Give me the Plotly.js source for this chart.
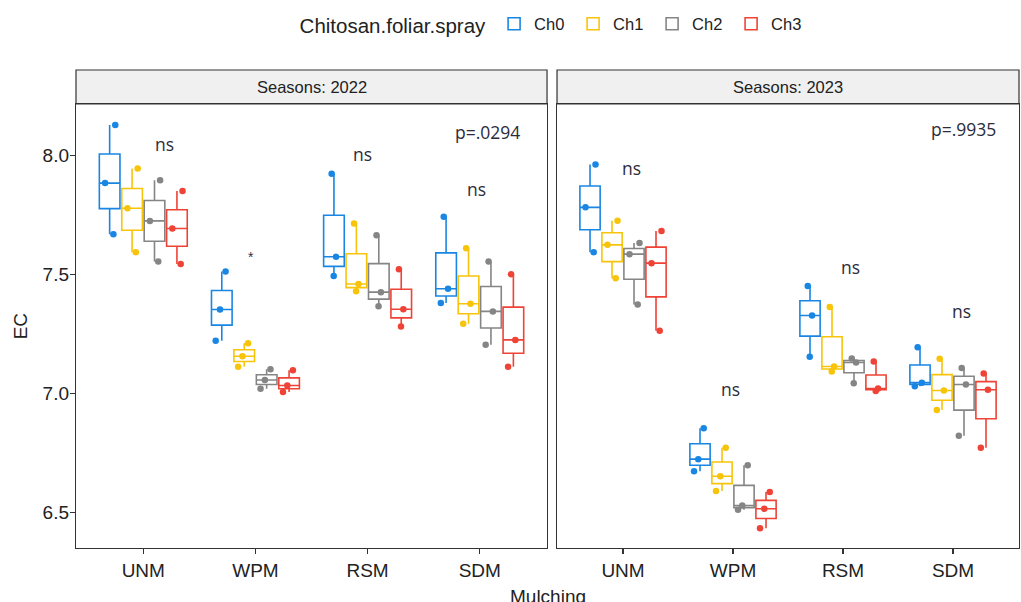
<!DOCTYPE html>
<html>
<head>
<meta charset="utf-8">
<script src="https://cdn.plot.ly/plotly-3.0.1.min.js"></script>
<style>html,body{margin:0;padding:0;background:#fff;}#chart{width:1021px;height:602px;}</style>
</head>
<body>
<div id="chart"></div>
<script>
// Categories
const mulching = ['UNM', 'WPM', 'RSM', 'SDM'];
const chitosan = ['Ch0', 'Ch1', 'Ch2', 'Ch3'];
const seasons = ['2022', '2023'];

// EC values (3 replicates per Mulching) — Season 2022
const ch0_2022 = [[8.13, 7.885, 7.67], [7.513, 7.353, 7.221], [7.924, 7.575, 7.494], [7.743, 7.44, 7.38]];
const ch1_2022 = [[7.946, 7.779, 7.594], [7.211, 7.156, 7.112], [7.715, 7.46, 7.43], [7.611, 7.377, 7.293]];
const ch2_2022 = [[7.897, 7.726, 7.555], [7.101, 7.056, 7.019], [7.666, 7.426, 7.367], [7.555, 7.345, 7.205]];
const ch3_2022 = [[7.852, 7.694, 7.545], [7.097, 7.033, 7.006], [7.522, 7.354, 7.281], [7.501, 7.225, 7.112]];

// EC values — Season 2023
const ch0_2023 = [[7.963, 7.783, 7.594], [6.853, 6.723, 6.672], [7.452, 7.328, 7.154], [7.194, 7.045, 7.03]];
const ch1_2023 = [[7.727, 7.625, 7.484], [6.771, 6.651, 6.589], [7.364, 7.113, 7.092], [7.146, 7.012, 6.93]];
const ch2_2023 = [[7.633, 7.586, 7.374], [6.697, 6.528, 6.51], [7.147, 7.13, 7.043], [7.107, 7.037, 6.822]];
const ch3_2023 = [[7.683, 7.548, 7.264], [6.585, 6.514, 6.432], [7.134, 7.02, 7.01], [7.084, 7.015, 6.771]];

// Significance labels
const sigLabels2022 = ['ns', '*', 'ns', 'ns'];
const sigX2022 = [0.19, 0.957, 1.956, 2.973];
const sigY2022 = [8.049, 7.574, 8.007, 7.86];
const sigLabels2023 = ['ns', 'ns', 'ns', 'ns'];
const sigX2023 = [0.077, 0.979, 2.064, 3.079];
const sigY2023 = [7.947, 7.017, 7.533, 7.348];
const pLabels = ['p=.0294', 'p=.9935'];
const pX = [3.068, 3.094];
const pY = [8.101, 8.111];

const colors = ['#1a86e3', '#f7c40a', '#858585', '#ee4336'];
const dataBySeason = {
  '2022': [ch0_2022, ch1_2022, ch2_2022, ch3_2022],
  '2023': [ch0_2023, ch1_2023, ch2_2023, ch3_2023]
};

const traces = [];
seasons.forEach((s, si) => {
  dataBySeason[s].forEach((grp, ci) => {
    const xs = [], ys = [];
    grp.forEach((vals, mi) => vals.forEach(v => { xs.push(mulching[mi]); ys.push(v); }));
    traces.push({
      type: 'box',
      x: xs, y: ys,
      name: chitosan[ci],
      legendgroup: chitosan[ci],
      showlegend: si === 0,
      xaxis: si === 0 ? 'x' : 'x2',
      yaxis: si === 0 ? 'y' : 'y2',
      offsetgroup: chitosan[ci],
      quartilemethod: 'inclusive',
      boxpoints: 'all',
      jitter: 0.7,
      pointpos: 0,
      whiskerwidth: 0,
      fillcolor: 'rgba(255,255,255,0)',
      line: {color: colors[ci], width: 1.6},
      marker: {color: colors[ci], size: 6.5, line: {width: 0}},
      hoverinfo: 'y'
    });
  });
});

const tickFont = {family: 'Liberation Sans, Arial, sans-serif', size: 19, color: '#222'};
const axisCommon = {
  showline: true, mirror: true, linecolor: '#333', linewidth: 1.2,
  showgrid: false, zeroline: false,
  ticks: 'outside', ticklen: 5, tickcolor: '#333', tickwidth: 1.1,
  tickfont: tickFont
};

const annFont = {family: 'Open Sans, Liberation Sans, sans-serif', size: 17.5, color: '#2b2b3b'};
const annotations = [];
sigLabels2022.forEach((t, i) => annotations.push({xref: 'x', yref: 'y', x: sigX2022[i], y: sigY2022[i], text: t, showarrow: false, xanchor: 'center', font: t === '*' ? {family: 'Liberation Sans', size: 14, color: '#334'} : annFont}));
sigLabels2023.forEach((t, i) => annotations.push({xref: 'x2', yref: 'y2', x: sigX2023[i], y: sigY2023[i], text: t, showarrow: false, xanchor: 'center', font: annFont}));
annotations.push({xref: 'x', yref: 'y', x: pX[0], y: pY[0], text: pLabels[0], showarrow: false, xanchor: 'center', font: annFont});
annotations.push({xref: 'x2', yref: 'y2', x: pX[1], y: pY[1], text: pLabels[1], showarrow: false, xanchor: 'center', font: annFont});

const d1 = [0, 0.4995];
const d2 = [0.5101, 1];
const stripTop = 1.0766;
const stripFont = {family: 'Liberation Sans, Arial, sans-serif', size: 16.5, color: '#222'};
annotations.push({xref: 'paper', yref: 'paper', x: (d1[0] + d1[1]) / 2, y: (1 + stripTop) / 2, text: 'Seasons: ' + seasons[0], showarrow: false, font: stripFont, xanchor: 'center', yanchor: 'middle'});
annotations.push({xref: 'paper', yref: 'paper', x: (d2[0] + d2[1]) / 2, y: (1 + stripTop) / 2, text: 'Seasons: ' + seasons[1], showarrow: false, font: stripFont, xanchor: 'center', yanchor: 'middle'});
annotations.push({xref: 'paper', yref: 'paper', x: 0.5, y: -0.082, xanchor: 'center', yanchor: 'top', text: 'Mulching', showarrow: false, font: {family: 'Liberation Sans, Arial, sans-serif', size: 19, color: '#222'}});
annotations.push({xref: 'paper', yref: 'paper', x: -0.059, y: 0.5, xanchor: 'center', yanchor: 'middle', text: 'EC', textangle: -90, showarrow: false, font: {family: 'Liberation Sans, Arial, sans-serif', size: 19, color: '#222'}});

const shapes = [
  {type: 'rect', xref: 'paper', yref: 'paper', x0: d1[0], x1: d1[1], y0: 1, y1: stripTop, fillcolor: '#f0f0f0', line: {color: '#333', width: 1.2}, layer: 'below'},
  {type: 'rect', xref: 'paper', yref: 'paper', x0: d2[0], x1: d2[1], y0: 1, y1: stripTop, fillcolor: '#f0f0f0', line: {color: '#333', width: 1.2}, layer: 'below'}
];

const yRange = [6.349, 8.218];
const layout = {
  width: 1021, height: 602,
  margin: {l: 76, r: 2, t: 104, b: 54},
  paper_bgcolor: '#fff', plot_bgcolor: '#fff',
  boxmode: 'group', boxgap: 0.2, boxgroupgap: 0.08,
  xaxis: Object.assign({}, axisCommon, {domain: d1, type: 'category', categoryorder: 'array', categoryarray: mulching, range: [-0.6, 3.6]}),
  xaxis2: Object.assign({}, axisCommon, {domain: d2, type: 'category', categoryorder: 'array', categoryarray: mulching, range: [-0.6, 3.6], anchor: 'y2'}),
  yaxis: Object.assign({}, axisCommon, {range: yRange, tickvals: [6.5, 7.0, 7.5, 8.0], tickformat: '.1f', ticklabelstandoff: -3}),
  yaxis2: Object.assign({}, axisCommon, {range: yRange, anchor: 'x2', showticklabels: false, ticks: ''}),
  showlegend: true,
  legend: {
    orientation: 'h', x: 0.235, xanchor: 'left', y: 1.178, yanchor: 'middle',
    entrywidth: 34, entrywidthmode: 'pixels',
    title: {text: 'Chitosan.foliar.spray', side: 'left', font: {family: 'Liberation Sans, Arial, sans-serif', size: 20.5, color: '#222'}},
    font: {family: 'Liberation Sans, Arial, sans-serif', size: 16.5, color: '#222'},
    bgcolor: 'rgba(0,0,0,0)'
  },
  annotations: annotations,
  shapes: shapes
};

Plotly.newPlot('chart', traces, layout, {displayModeBar: false, staticPlot: true});
</script>
</body>
</html>
